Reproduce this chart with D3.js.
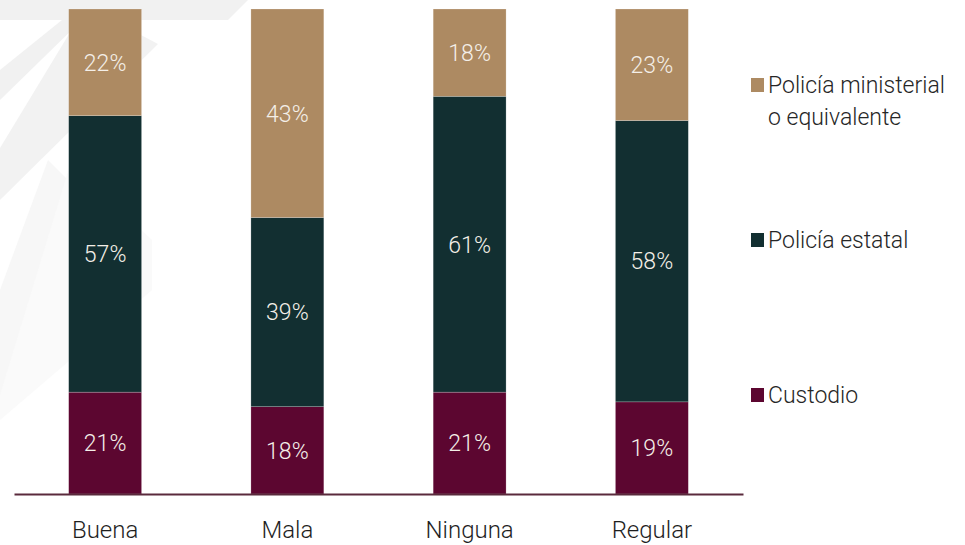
<!DOCTYPE html>
<html>
<head>
<meta charset="utf-8">
<script src="https://cdn.jsdelivr.net/npm/d3@7"></script>
<style>
  html, body { margin: 0; padding: 0; background: #ffffff; }
  svg { display: block; }
  text { font-family: "Roboto", "Open Sans", sans-serif; font-weight: 300; }
</style>
</head>
<body>
<svg id="chart" width="965" height="545"></svg>
<script>
const categories = ["Buena", "Mala", "Ninguna", "Regular"];
const seriesNames = ["Custodio", "Policía estatal", "Policía ministerial o equivalente"];
const custodio = [21, 18, 21, 19];
const policiaEstatal = [57, 39, 61, 58];
const policiaMinisterial = [22, 43, 18, 23];
const colors = ["#5c0630", "#122f31", "#ad8a62"];

const rows = categories.map((c, i) => ({
  cat: c,
  "Custodio": custodio[i],
  "Policía estatal": policiaEstatal[i],
  "Policía ministerial o equivalente": policiaMinisterial[i]
}));

const svg = d3.select("#chart");

// faint watermark shapes in the upper-left background
const wm = svg.append("g").attr("fill", "#f1f1f1");
wm.append("path").attr("d", "M0,0 L248,0 L228,20 L0,20 Z");
wm.append("path").attr("d", "M86,6 L158,44 L0,200 L0,148 Z").attr("opacity", 0.9);
wm.append("path").attr("d", "M0,70 L62,20 L82,20 L0,100 Z");
wm.append("path").attr("d", "M48,160 L148,260 L0,400 L0,290 Z").attr("fill", "#f7f7f7");
wm.append("path").attr("d", "M70,165 L152,240 L152,290 L0,420 L0,395 Z").attr("fill", "#fafafa");

const x = d3.scaleBand()
  .domain(categories)
  .range([14, 743])
  .paddingInner(0.6)
  .paddingOuter(0.3);

const y = d3.scaleLinear().domain([0, 100]).range([494, 9]);

const stacked = d3.stack().keys(seriesNames)(rows);

const layers = svg.append("g").selectAll("g")
  .data(stacked)
  .join("g")
  .attr("fill", (d, i) => colors[i]);

layers.selectAll("rect")
  .data(d => d.map(p => ({ p, key: d.key })))
  .join("rect")
  .attr("x", d => x(d.p.data.cat))
  .attr("y", d => y(d.p[1]))
  .attr("width", x.bandwidth())
  .attr("height", d => y(d.p[0]) - y(d.p[1]))
  .attr("stroke", "#ffffff")
  .attr("stroke-opacity", 0.35)
  .attr("stroke-width", 0.6);

layers.selectAll("text")
  .data(d => d.map(p => ({ p, key: d.key })))
  .join("text")
  .attr("x", d => x(d.p.data.cat) + x.bandwidth() / 2)
  .attr("y", d => (y(d.p[0]) + y(d.p[1])) / 2)
  .attr("dy", "0.36em")
  .attr("text-anchor", "middle")
  .attr("fill", "#f4efe8")
  .attr("font-size", 23)
  .text(d => (d.p[1] - d.p[0]) + "%");

// x axis
const xAxis = svg.append("g")
  .attr("transform", "translate(0,494)")
  .call(d3.axisBottom(x).tickSize(0).tickSizeOuter(0).tickPadding(27));
xAxis.select(".domain").attr("stroke", "#5a2a3c").attr("stroke-width", 2);
xAxis.selectAll("text")
  .attr("font-family", "Roboto, 'Open Sans', sans-serif")
  .attr("font-weight", 300)
  .attr("font-size", 24)
  .attr("fill", "#1e1e1e");

// legend (top to bottom: ministerial, estatal, custodio)
const legendItems = [
  { lines: ["Policía ministerial", "o equivalente"], color: colors[2], y: 93 },
  { lines: ["Policía estatal"], color: colors[1], y: 248 },
  { lines: ["Custodio"], color: colors[0], y: 403 }
];
const lg = svg.append("g").selectAll("g").data(legendItems).join("g");
lg.append("rect")
  .attr("x", 751)
  .attr("y", d => d.y - 15)
  .attr("width", 13)
  .attr("height", 14)
  .attr("fill", d => d.color);
lg.append("text")
  .attr("x", 768)
  .attr("y", d => d.y)
  .attr("font-size", 23)
  .attr("fill", "#262626")
  .selectAll("tspan")
  .data(d => d.lines)
  .join("tspan")
  .attr("x", 768)
  .attr("dy", (d, i) => i === 0 ? 0 : 32)
  .text(d => d);
</script>
</body>
</html>
